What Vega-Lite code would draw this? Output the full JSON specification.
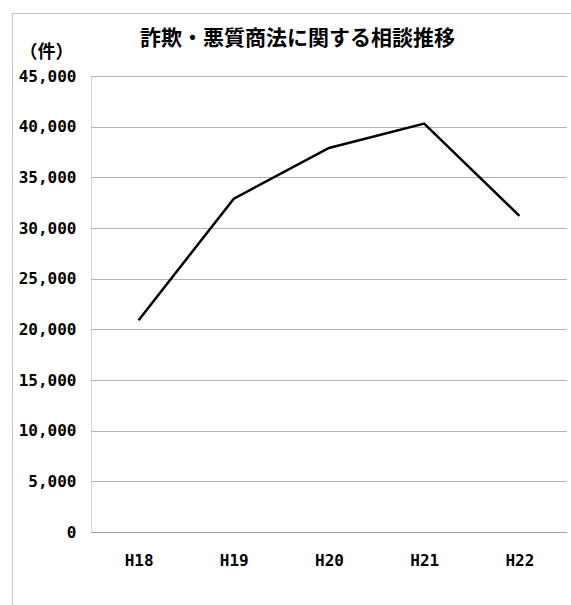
{
  "$schema": "https://vega.github.io/schema/vega-lite/v6.json",
  "autosize": "none",
  "padding": {"left": 12, "top": 13, "right": 0, "bottom": 0},
  "width": 559,
  "height": 592,
  "background": "white",
  "data": {
    "values": [
      {"year": "H18", "count": 20900},
      {"year": "H19", "count": 32900},
      {"year": "H20", "count": 37900},
      {"year": "H21", "count": 40300},
      {"year": "H22", "count": 31200}
    ]
  },
  "mark": {"type": "line", "color": "#000000", "strokeWidth": 2.5},
  "encoding": {
    "x": {
      "field": "year",
      "type": "nominal",
      "sort": null,
      "scale": {"type": "point", "range": [79, 555], "padding": 0.5},
      "axis": {
        "title": "詐欺・悪質商法に関する相談推移",
        "titleFont": "Noto Sans CJK JP",
        "titleFontSize": 21,
        "titleFontWeight": "bold",
        "titleColor": "#000000",
        "titleAlign": "center",
        "titleBaseline": "middle",
        "titleAnchor": null,
        "titleX": 285,
        "titleY": -494,
        "offset": -73,
        "domain": false,
        "ticks": false,
        "grid": false,
        "labelAngle": 0,
        "labelFont": "DejaVu Sans Mono",
        "labelFontSize": 16,
        "labelFontWeight": "bold",
        "labelColor": "#000000",
        "labelPadding": 20,
        "labelBaseline": "top"
      }
    },
    "y": {
      "field": "count",
      "type": "quantitative",
      "scale": {"domain": [0, 45000], "range": [519, 63], "nice": false},
      "axis": {
        "title": "（件）",
        "titleAngle": 0,
        "titleX": -45,
        "titleY": 39,
        "titleAlign": "center",
        "titleBaseline": "middle",
        "titleFont": "Noto Sans CJK JP",
        "titleFontSize": 18,
        "titleFontWeight": "bold",
        "titleColor": "#000000",
        "offset": -79,
        "values": [0, 5000, 10000, 15000, 20000, 25000, 30000, 35000, 40000, 45000],
        "format": ",d",
        "ticks": false,
        "labelFont": "DejaVu Sans Mono",
        "labelFontSize": 16,
        "labelFontWeight": "bold",
        "labelColor": "#000000",
        "labelPadding": 15,
        "domainColor": "#a8a8a8",
        "domainDash": [1, 1],
        "grid": true,
        "gridColor": {"condition": {"test": "datum.value === 0", "value": "#444444"}, "value": "#666666"},
        "gridDash": [1, 1],
        "gridWidth": 1
      }
    }
  },
  "config": {
    "view": {"stroke": "#888888", "strokeDash": [1, 1], "strokeWidth": 1}
  }
}
